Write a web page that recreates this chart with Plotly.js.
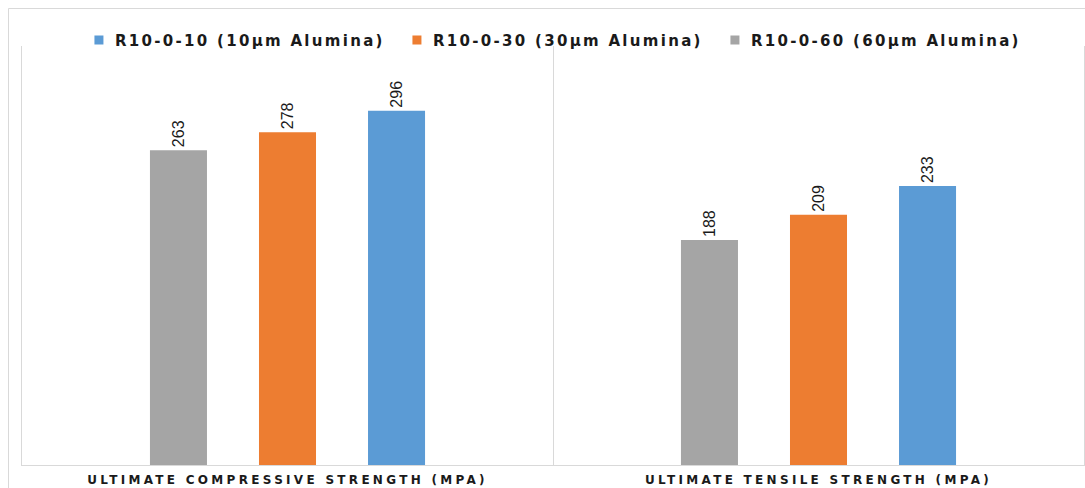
<!DOCTYPE html>
<html>
<head>
<meta charset="utf-8">
<script src="https://cdn.plot.ly/plotly-3.0.1.min.js"></script>
<style>
  html, body { margin: 0; padding: 0; background: #ffffff; }
  #chart { width: 1085px; height: 488px; }
  /* wide, tracked lettering for legend entries and category labels */
  .legendtext { letter-spacing: 2.3px; }
  .xtick text { letter-spacing: 3.3px; }
  /* smaller legend swatches sitting close to their labels */
  .legendpoints path {
    transform-box: fill-box;
    transform-origin: center;
    scale: 0.75;
    translate: 9px 0;
  }
</style>
</head>
<body>
<div id="chart"></div>
<script>
// Strength test results for three alumina grit sizes
const categories = ['ULTIMATE COMPRESSIVE STRENGTH (MPA)', 'ULTIMATE TENSILE STRENGTH (MPA)'];
const seriesNames = ['R10-0-60 (60µm Alumina)', 'R10-0-30 (30µm Alumina)', 'R10-0-10 (10µm Alumina)'];
const alumina60 = [263, 188];
const alumina30 = [278, 209];
const alumina10 = [296, 233];
const seriesColors = ['#a5a5a5', '#ed7d31', '#5b9bd5'];

const seriesValues = [alumina60, alumina30, alumina10];

const traces = seriesValues.map((vals, i) => ({
  type: 'bar',
  name: seriesNames[i],
  x: categories,
  y: vals,
  marker: { color: seriesColors[i], line: { width: 0 } },
  text: vals.map(v => String(v)),
  textposition: 'outside',
  textangle: -90,
  constraintext: 'none',
  cliponaxis: false,
  textfont: { family: 'Liberation Sans, Arial, sans-serif', size: 16, color: '#1a1a1a' },
  hoverinfo: 'none'
}));

const layout = {
  width: 1085,
  height: 488,
  margin: { l: 22, r: 1, t: 46, b: 23, pad: 0 },
  paper_bgcolor: '#ffffff',
  plot_bgcolor: '#ffffff',
  barmode: 'group',
  bargap: 0.384,
  bargroupgap: 0.477,
  showlegend: true,
  legend: {
    orientation: 'h',
    x: 0.499,
    xanchor: 'center',
    y: 1.014,
    yanchor: 'middle',
    traceorder: 'reversed',
    entrywidth: 273,
    entrywidthmode: 'pixels',
    itemwidth: 30,
    bgcolor: 'rgba(0,0,0,0)',
    font: { family: 'DejaVu Sans, sans-serif', size: 15, color: '#1a1a1a', weight: 'bold' }
  },
  xaxis: {
    type: 'category',
    range: [-0.5, 1.5],
    showgrid: true,
    gridcolor: '#d9d9d9',
    gridwidth: 1,
    tickson: 'boundaries',
    ticks: '',
    ticklabelstandoff: 4,
    showline: true,
    linecolor: '#d9d9d9',
    linewidth: 1,
    zeroline: false,
    fixedrange: true,
    tickfont: { family: 'DejaVu Sans, sans-serif', size: 12, color: '#1a1a1a', weight: 'bold' }
  },
  yaxis: {
    range: [0, 350],
    showgrid: false,
    zeroline: false,
    showticklabels: false,
    ticks: '',
    showline: true,
    mirror: true,
    linecolor: '#d9d9d9',
    linewidth: 1,
    fixedrange: true
  },
  shapes: [{
    type: 'rect',
    xref: 'paper', yref: 'paper',
    x0: -0.0127, x1: 1.2,
    y0: -0.3, y1: 1.0895,
    line: { color: '#d9d9d9', width: 1 },
    fillcolor: 'rgba(0,0,0,0)',
    layer: 'below'
  }]
};

Plotly.newPlot('chart', traces, layout, { displayModeBar: false, staticPlot: true });
</script>
</body>
</html>
